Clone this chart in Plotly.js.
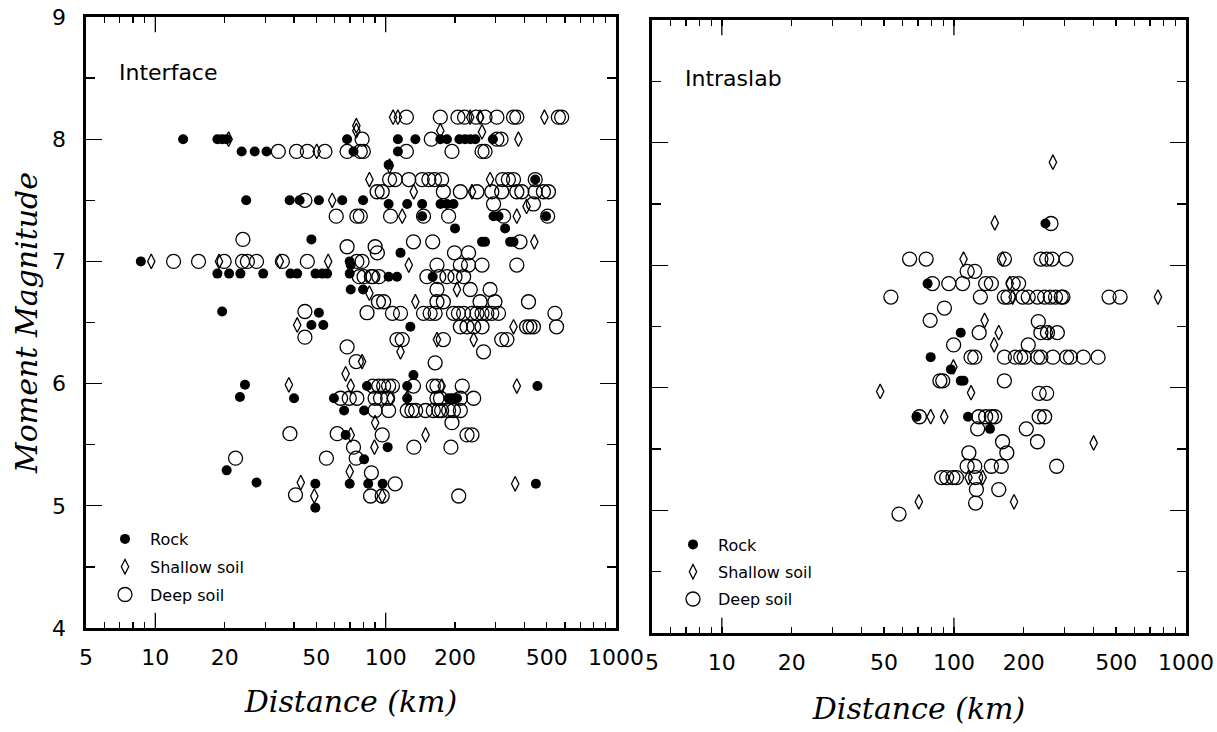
<!DOCTYPE html>
<html>
<head>
<meta charset="utf-8">
<script src="https://cdn.plot.ly/plotly-3.0.1.min.js"></script>
<style>html,body{margin:0;padding:0;background:#fff;}#chart{width:1217px;height:732px;}</style>
</head>
<body>
<div id="chart"></div>
<script>
// ---------- DATA: [distance km, moment magnitude] ----------
// Interface panel
const interfaceRock = [
 [8.65,7.0],[13.2,8.0],[18.6,8.0],[19.5,8.0],[20.4,8.0],
 [23.7,7.9],[27,7.9],[30.4,7.9],
 [24.8,7.5],[38.3,7.5],[42.3,7.5],[51.3,7.5],[64.8,7.5],[79.8,7.5],
 [47.6,7.18],
 [18.6,6.9],[20.9,6.9],[23.4,6.9],[29.4,6.9],[38.6,6.9],[41.3,6.9],[49.6,6.9],[53,6.9],[55.7,6.9],
 [69.8,7.0],[69.8,6.9],[70.5,6.77],[79.8,6.77],
 [19.5,6.59],[51.3,6.58],[47.6,6.48],[53.6,6.48],
 [68,8.0],[72.5,7.9],
 [113,8.0],[134.6,8.0],[172.7,8.0],[184.5,8.0],[209,8.0],[221,8.0],[233,8.0],[245,8.0],[292,8.0],
 [113,7.9],[103,7.79],[446,7.67],
 [103,7.47],[124,7.47],[144,7.47],[173,7.47],[184.5,7.47],[197,7.47],
 [144,7.37],[294,7.37],[309,7.37],[497,7.37],
 [200,7.27],[330,7.27],
 [262,7.16],[270,7.16],[347,7.16],[359,7.16],
 [116,7.07],[70.5,6.97],
 [103,6.875],[112,6.875],[160,6.875],
 [128,6.465],
 [124,5.98],[132,6.07],[83,5.98],[456,5.98],
 [59.6,5.88],[124,5.88],[187.6,5.88],[194,5.88],[200,5.88],[204,5.88],
 [66,5.78],[80.6,5.78],
 [67,5.58],[102,5.48],[80.6,5.38],
 [49.5,5.18],[69.8,5.18],[84,5.18],[97,5.18],[449,5.18],
 [49.5,4.985],
 [24.5,5.99],[23.3,5.89],[40,5.88],
 [20.4,5.29],[27.5,5.19]
];
const interfaceShallow = [
 [9.6,7.0],[20.8,8.0],[50.2,7.9],[74.6,8.11],[74.6,8.07],[58.6,7.5],[85,7.67],
 [18.9,7.0],[34.7,7.0],[56.3,7.0],[85,6.74],[41.3,6.48],
 [107.7,8.18],[113,8.18],[232.8,8.18],[257,8.18],[489,8.18],
 [172.7,8.07],[262,8.06],[377,8.0],[104,7.78],[284,7.67],
 [132.4,7.57],[237,7.57],[409,7.45],[118,7.37],[371,7.37],[442,7.16],
 [126,6.97],[204,6.77],[134.6,6.67],[359,6.465],[167,6.36],[241,6.36],
 [116,6.26],[79,6.18],[67,6.08],
 [70.5,5.98],[175,5.98],[371,5.98],[38,5.99],[105,5.88],[124,5.88],
 [90,5.68],[70.5,5.58],[149,5.58],[89.4,5.48],[69.8,5.28],
 [365,5.18],[42.8,5.19],[49,5.08],[96.6,5.08]
];
const interfaceDeep = [
 [12,7.0],[15.4,7.0],[19.9,7.0],[23.9,7.0],[25.1,7.0],[27.5,7.0],[35.6,7.0],[45.7,7.0],
 [24,7.18],
 [34.2,7.9],[41,7.9],[45.7,7.9],[54.5,7.9],[68,7.9],[77.6,7.9],[80,7.9],[79,8.0],
 [44.6,7.5],[61,7.37],[75,7.37],[77.6,7.37],[91.8,7.57],
 [68,7.12],[90,7.12],[75,7.0],[79,7.0],[76.8,6.875],[88,6.875],
 [44.6,6.59],[44.6,6.38],[68,6.3],[83,6.58],[93,6.67],
 [123,8.18],[172.7,8.18],[206,8.18],[220,8.18],[247,8.18],[270,8.18],[304,8.18],[359,8.18],[371,8.18],[562,8.18],[581,8.18],
 [157.8,8.0],[304,8.0],[317,8.0],
 [123,7.9],[194,7.9],[262,7.9],[270,7.9],
 [104,7.67],[110,7.67],[126,7.67],[144,7.67],[154,7.67],[163,7.67],[175,7.67],[322,7.67],[341,7.67],[359,7.67],[446,7.67],
 [96.6,7.57],[178,7.57],[211,7.57],[249,7.57],[289,7.57],[319,7.57],[371,7.57],[390,7.57],[446,7.57],[484,7.57],[509,7.57],
 [294,7.47],[438,7.47],
 [105,7.37],[146,7.37],[187.6,7.37],[325,7.37],[505,7.37],
 [132,7.16],[160,7.16],[383,7.16],
 [92,7.07],[199,7.07],[229,7.07],
 [167,6.97],[211,6.97],[229,6.97],[262,6.97],[371,6.97],
 [80.6,6.875],[86.7,6.875],[93.5,6.875],[151,6.875],[170,6.875],[184.5,6.875],[200,6.875],[218,6.875],
 [167,6.77],[233,6.77],[284,6.77],
 [98,6.67],[167,6.67],[178,6.67],[257,6.67],[298,6.67],[417,6.67],
 [107,6.575],[116,6.575],[146,6.575],[156,6.575],[164,6.575],[197,6.575],[207,6.575],[218,6.575],[237,6.575],[249,6.575],[262,6.575],[275,6.575],[289,6.575],[309,6.575],[543,6.575],
 [211,6.465],[225.5,6.465],[241,6.465],[262,6.465],[409,6.465],[423,6.465],[438,6.465],[552,6.465],
 [112,6.36],[118,6.36],[178,6.36],[319,6.36],[336,6.36],
 [266,6.26],[74.5,6.18],[164,6.17],
 [88,5.98],[93.4,5.98],[98,5.98],[103,5.98],[107,5.98],[132,5.98],[161,5.98],[167,5.98],[215,5.98],
 [63.7,5.88],[69.5,5.88],[75,5.88],[90,5.88],[95,5.88],[102,5.88],[167,5.88],[173,5.88],[211,5.88],[241,5.88],
 [90,5.78],[103,5.78],[124,5.78],[130,5.78],[135,5.78],[149,5.78],[161,5.78],[170,5.78],[175,5.78],[187.6,5.78],[197,5.78],[211,5.78],
 [194,5.68],
 [38.4,5.59],[61.6,5.59],[96.6,5.58],[225.5,5.58],[237,5.58],
 [72.5,5.48],[132.6,5.48],[192,5.48],
 [55.3,5.39],[74.5,5.39],[22.3,5.39],
 [86.7,5.27],[110,5.18],
 [86,5.08],[96.6,5.08],[207.5,5.08],[40.6,5.09]
];
// Intraslab panel
const intraslabRock = [
 [248,7.34],[77,6.85],[107,6.45],[79.4,6.25],[97,6.15],[107,6.057],[110,6.057],[69,5.764],[115,5.764],[143,5.665]
];
const intraslabShallow = [
 [267,7.84],[150,7.345],[110,7.05],[162,7.05],[174,6.85],[179,6.74],[757,6.74],[135.6,6.55],
 [156,6.45],[257,6.45],[149,6.35],[99.5,6.17],[118.5,5.96],[48.1,5.97],[79.4,5.764],[90.8,5.764],
 [400,5.55],[115.6,5.268],[133,5.268],[70.6,5.07],[181.6,5.07]
];
const intraslabDeep = [
 [262,7.34],
 [64.4,7.05],[75.9,7.05],[165,7.05],[237,7.05],[251,7.05],[265,7.05],[304,7.05],
 [114,6.95],[123,6.95],
 [80.8,6.85],[95,6.85],[109,6.85],[137,6.85],[145,6.85],[180,6.85],[190,6.85],
 [53.5,6.74],[130,6.74],[165,6.74],[171,6.74],[198,6.74],[209,6.74],[229,6.74],[246,6.74],[260,6.74],[274,6.74],[290,6.74],[295,6.74],[466,6.74],[520,6.74],
 [91,6.65],[79,6.55],[231,6.54],
 [128.5,6.45],[237,6.45],[253,6.45],[279,6.45],
 [99.7,6.35],[209,6.35],
 [118.5,6.25],[123,6.25],[165,6.25],[184,6.25],[194,6.25],[201,6.25],[229,6.25],[237,6.25],[267,6.25],[306,6.25],[318,6.25],[361,6.25],[418,6.25],
 [87,6.057],[89.5,6.057],[165,6.057],
 [233,5.955],[251,5.955],
 [71,5.764],[128,5.764],[137,5.764],[145,5.764],[150,5.764],[233,5.764],[246,5.764],
 [126.5,5.665],[205,5.665],
 [162,5.56],[229,5.56],
 [116,5.47],[169,5.47],
 [114,5.36],[123,5.36],[145,5.36],[160,5.36],[277,5.36],
 [88.5,5.268],[93,5.268],[99,5.268],[102.5,5.268],[124,5.268],
 [125,5.17],[156,5.17],
 [124,5.06],
 [58,4.97]
];
// Tick labels / positions
const xTickVals = [5,10,20,50,100,200,500,1000];
const xTickText = ['5','10','20','50','100','200','500','1000'];
const xLongTicks = [10,100];
const xMinorTicks = [6,7,8,9,30,40,60,70,80,90,300,400,600,700,800,900];
const yTickVals = [4,5,6,7,8,9];
const yMinorTicks = [4.5,5.5,6.5,7.5,8.5];
const seriesNames = ['Rock','Shallow soil','Deep soil'];

// ---------- STYLE ----------
const W = 1217, H = 732;
const sans = 'DejaVu Sans, Verdana, sans-serif';
const serif = 'DejaVu Serif, serif';
const markerStyles = [
  {symbol:'circle', size:10, color:'#000', line:{width:0}},
  {symbol:'diamond-tall-open', size:10.5, color:'#000', line:{width:1.3, color:'#000'}},
  {symbol:'circle-open', size:14, color:'#000', line:{width:1.3, color:'#000'}}
];

function mk(data, idx, xa, ya, leg) {
  return {
    type:'scatter', mode:'markers',
    x: data.map(p=>p[0]), y: data.map(p=>p[1]),
    xaxis: xa, yaxis: ya, name: seriesNames[idx],
    legend: leg, legendgroup: leg + idx,
    marker: markerStyles[idx], cliponaxis:false
  };
}
const traces = [
  mk(interfaceRock,0,'x','y','legend'),
  mk(interfaceShallow,1,'x','y','legend'),
  mk(interfaceDeep,2,'x','y','legend'),
  mk(intraslabRock,0,'x2','y2','legend2'),
  mk(intraslabShallow,1,'x2','y2','legend2'),
  mk(intraslabDeep,2,'x2','y2','legend2')
];

const xr = [Math.log10(5), 3];
function xAxis(dom, anchor, standoff) {
  return {
    type:'log', range:xr, domain:dom, anchor:anchor,
    showgrid:false, zeroline:false,
    showline:true, linewidth:2.6, linecolor:'#000', mirror:'ticks',
    tickmode:'array', tickvals:xTickVals, ticktext:xTickText,
    ticks:'inside', ticklen:6, tickwidth:1.3, tickcolor:'#000',
    tickfont:{family:sans, size:22, color:'#000'}, ticklabelstandoff:8,
    minor:{tickmode:'array', tickvals:xMinorTicks, ticks:'inside', ticklen:6, tickwidth:1.3, tickcolor:'#000', showgrid:false},
    title:{text:'Distance (km)', font:{family:serif, size:30, color:'#000', style:'italic'}, standoff:standoff}
  };
}
function yAxis(dom, anchor, showLabels, titleText) {
  return {
    range:[4,9], domain:dom, anchor:anchor,
    showgrid:false, zeroline:false,
    showline:true, linewidth:2.6, linecolor:'#000', mirror:'ticks',
    tickmode:'array', tickvals:yTickVals, ticks:'inside', ticklen:16, tickwidth:1.3, tickcolor:'#000',
    showticklabels:showLabels, tickfont:{family:sans, size:22, color:'#000'}, ticklabelstandoff:13,
    minor:{tickmode:'array', tickvals:yMinorTicks, ticks:'inside', ticklen:9, tickwidth:1.3, tickcolor:'#000', showgrid:false},
    title: titleText ? {text:titleText, font:{family:serif, size:30, color:'#000', style:'italic'}, standoff:6} : {text:''}
  };
}
// long major ticks at decades (bottom and mirrored top) drawn as axis decorations
function longTicks(xref, yref) {
  const out = [];
  xLongTicks.forEach(v => {
    out.push({type:'line', xref:xref, yref:yref+' domain', x0:v, x1:v, y0:0, y1:0.025, line:{color:'#000', width:1.3}});
    out.push({type:'line', xref:xref, yref:yref+' domain', x0:v, x1:v, y0:1, y1:0.975, line:{color:'#000', width:1.3}});
  });
  return out;
}

const layout = {
  width:W, height:H,
  margin:{l:0, r:0, t:0, b:0},
  paper_bgcolor:'#fff', plot_bgcolor:'#fff',
  showlegend:true,
  xaxis: xAxis([86/W, 616/W], 'y', 22),
  xaxis2: xAxis([652/W, 1186/W], 'y2', 24),
  yaxis: yAxis([1-628/H, 1-17/H], 'x', true, 'Moment Magnitude'),
  yaxis2: yAxis([1-633/H, 1-20/H], 'x2', false, ''),
  shapes: longTicks('x','y').concat(longTicks('x2','y2')),
  legend: {x:100/W, y:1-522/H, xanchor:'left', yanchor:'top', bgcolor:'rgba(0,0,0,0)', itemwidth:40,
           font:{family:sans, size:16, color:'#000'}, tracegroupgap:4, itemsizing:'trace'},
  legend2: {x:668/W, y:1-527.5/H, xanchor:'left', yanchor:'top', bgcolor:'rgba(0,0,0,0)', itemwidth:40,
           font:{family:sans, size:16, color:'#000'}, tracegroupgap:3.5, itemsizing:'trace'},
  annotations:[
    {text:'Interface', xref:'paper', yref:'paper', x:117/W, y:1-72/H, xanchor:'left', yanchor:'middle', showarrow:false,
     font:{family:sans, size:22, color:'#000'}},
    {text:'Intraslab', xref:'paper', yref:'paper', x:683/W, y:1-79/H, xanchor:'left', yanchor:'middle', showarrow:false,
     font:{family:sans, size:22, color:'#000'}}
  ]
};

Plotly.newPlot('chart', traces, layout, {staticPlot:true, displayModeBar:false});
</script>
</body>
</html>
